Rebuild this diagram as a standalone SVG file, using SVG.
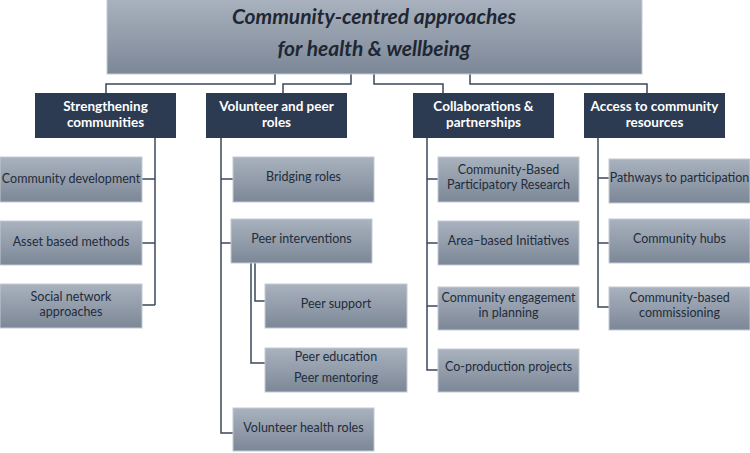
<svg xmlns="http://www.w3.org/2000/svg" width="750" height="453" viewBox="0 0 750 453">
<defs>
<linearGradient id="g" x1="0" y1="0" x2="0" y2="1">
<stop offset="0" stop-color="#a9b2be"/>
<stop offset="1" stop-color="#7c8797"/>
</linearGradient>
<style>
.box{fill:url(#g);stroke:#c3c9d1;stroke-width:1}
.dark{fill:#2c3b52}
.t{font-family:Lato,"Open Sans",sans-serif;font-size:12.5px;fill:#222c3a;text-anchor:middle}
.h{font-family:Lato,"Open Sans",sans-serif;font-size:13.5px;font-weight:bold;fill:#ffffff;text-anchor:middle}
.title{font-family:Lato,"Open Sans",sans-serif;font-size:21px;font-weight:bold;font-style:italic;fill:#1e2733;text-anchor:middle}
.c{fill:none;stroke:#3a475a;stroke-width:1.5}
</style>
</defs>
<rect width="750" height="453" fill="#ffffff"/>
<g id="connectors">
<polyline class="c" points="275,74 275,84 106,84 106,93"/>
<polyline class="c" points="351,74 351,84 283,84 283,93"/>
<polyline class="c" points="374,74 374,84 443,84 443,93"/>
<polyline class="c" points="470,74 470,84 647,84 647,93"/>
<polyline class="c" points="155,138 155,305"/>
<line class="c" x1="142" y1="179" x2="155" y2="179"/>
<line class="c" x1="142" y1="243" x2="155" y2="243"/>
<line class="c" x1="142" y1="305" x2="155" y2="305"/>
<polyline class="c" points="221,138 221,433 233,433"/>
<line class="c" x1="221" y1="179" x2="233" y2="179"/>
<line class="c" x1="221" y1="243" x2="231" y2="243"/>
<polyline class="c" points="255,263 255,301 265,301"/>
<polyline class="c" points="251,263 251,363 265,363"/>
<polyline class="c" points="427,138 427,370 438,370"/>
<line class="c" x1="427" y1="179" x2="438" y2="179"/>
<line class="c" x1="427" y1="243" x2="438" y2="243"/>
<line class="c" x1="427" y1="306" x2="438" y2="306"/>
<polyline class="c" points="598,138 598,307 609,307"/>
<line class="c" x1="598" y1="178" x2="609" y2="178"/>
<line class="c" x1="598" y1="243" x2="609" y2="243"/>
</g>
<g id="root">
<rect class="box" x="107" y="-1" width="535" height="75"/>
<text class="title" x="374" y="24">Community-centred approaches</text>
<text class="title" x="374" y="56">for health &amp; wellbeing</text>
</g>
<g id="strengthening">
<rect class="dark" x="35" y="93" width="141" height="45"/>
<text class="h" x="105.5" y="111">Strengthening</text>
<text class="h" x="105.5" y="127">communities</text>
</g>
<g id="volunteer">
<rect class="dark" x="206" y="93" width="141" height="45"/>
<text class="h" x="276.5" y="111">Volunteer and peer</text>
<text class="h" x="276.5" y="127">roles</text>
</g>
<g id="collaborations">
<rect class="dark" x="413" y="93" width="141" height="45"/>
<text class="h" x="483.5" y="111">Collaborations &amp;</text>
<text class="h" x="483.5" y="127">partnerships</text>
</g>
<g id="access">
<rect class="dark" x="584" y="93" width="141" height="45"/>
<text class="h" x="654.5" y="111">Access to community</text>
<text class="h" x="654.5" y="127">resources</text>
</g>
<g id="community-development">
<rect class="box" x="0" y="157" width="142" height="45"/>
<text class="t" x="71" y="183">Community development</text>
</g>
<g id="asset-based">
<rect class="box" x="0" y="221" width="142" height="44"/>
<text class="t" x="71" y="246">Asset based methods</text>
</g>
<g id="social-network">
<rect class="box" x="0" y="284" width="142" height="44"/>
<text class="t" x="71" y="301">Social network</text>
<text class="t" x="71" y="316">approaches</text>
</g>
<g id="bridging">
<rect class="box" x="233" y="157" width="141" height="45"/>
<text class="t" x="303.5" y="181">Bridging roles</text>
</g>
<g id="peer-interventions">
<rect class="box" x="231" y="219" width="141" height="44"/>
<text class="t" x="301.5" y="243">Peer interventions</text>
</g>
<g id="peer-support">
<rect class="box" x="265" y="284" width="142" height="44"/>
<text class="t" x="336" y="308">Peer support</text>
</g>
<g id="peer-education">
<rect class="box" x="265" y="348" width="142" height="44"/>
<text class="t" x="336" y="361">Peer education</text>
<text class="t" x="336" y="382">Peer mentoring</text>
</g>
<g id="volunteer-health">
<rect class="box" x="233" y="408" width="141" height="43"/>
<text class="t" x="303.5" y="432">Volunteer health roles</text>
</g>
<g id="cbpr">
<rect class="box" x="438" y="157" width="141" height="45"/>
<text class="t" x="508.5" y="174">Community-Based</text>
<text class="t" x="508.5" y="189">Participatory Research</text>
</g>
<g id="area-based">
<rect class="box" x="438" y="221" width="141" height="44"/>
<text class="t" x="508.5" y="245">Area–based Initiatives</text>
</g>
<g id="engagement">
<rect class="box" x="438" y="287" width="141" height="43"/>
<text class="t" x="508.5" y="302">Community engagement</text>
<text class="t" x="508.5" y="317">in planning</text>
</g>
<g id="co-production">
<rect class="box" x="438" y="349" width="141" height="43"/>
<text class="t" x="508.5" y="371">Co-production projects</text>
</g>
<g id="pathways">
<rect class="box" x="609" y="159" width="141" height="44"/>
<text class="t" x="679.5" y="182">Pathways to participation</text>
</g>
<g id="hubs">
<rect class="box" x="609" y="219" width="141" height="44"/>
<text class="t" x="679.5" y="243">Community hubs</text>
</g>
<g id="commissioning">
<rect class="box" x="609" y="287" width="141" height="43"/>
<text class="t" x="679.5" y="302">Community-based</text>
<text class="t" x="679.5" y="317">commissioning</text>
</g>
</svg>
